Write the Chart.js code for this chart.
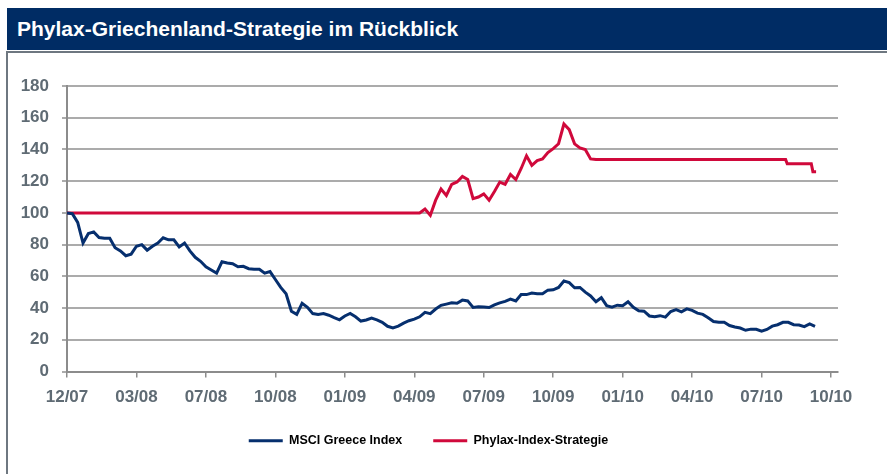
<!DOCTYPE html>
<html>
<head>
<meta charset="utf-8">
<script src="https://cdn.jsdelivr.net/npm/chart.js@4.4.0/dist/chart.umd.min.js"></script>
<style>
  html, body { margin: 0; padding: 0; background: #fff; }
  body { width: 887px; height: 474px; position: relative; overflow: hidden;
         font-family: "Liberation Sans", Arial, sans-serif; }
  #titlebar { position: absolute; left: 7px; top: 8px; width: 880px; height: 42px;
              background: #002c64; color: #fff; font-weight: bold; font-size: 21px;
              line-height: 42px; padding-left: 10px; box-sizing: border-box; }
  #frame { position: absolute; left: 6px; top: 51px; width: 881px; height: 423px;
           border-left: 2px solid #6e7780; border-top: 2px solid #6e7780; box-sizing: border-box; }
  #chart { position: absolute; left: 0; top: 0; }
</style>
</head>
<body>
<div id="titlebar">Phylax-Griechenland-Strategie im Rückblick</div>
<div id="frame"></div>
<canvas id="chart" width="887" height="474"></canvas>
<script>
// x unit = one week, 13 weeks between tick labels
var tickLabels = ['12/07', '03/08', '07/08', '10/08', '01/09', '04/09', '07/09', '10/09', '01/10', '04/10', '07/10', '10/10'];

// MSCI Greece Index, weekly, week 0 .. 140
var msciValues = [
  100, 99.5, 94, 81, 87, 88, 84.5, 84, 84, 78,
  76, 73, 74, 79, 80, 76.5, 79, 81, 84.3, 83,
  83, 78.5, 81, 76, 72, 69.5, 66, 64, 62, 69.2,
  68.4, 68, 66, 66.3, 64.8, 64.5, 64.5, 62, 63, 58,
  53, 49, 38, 36, 43, 40.5, 36.5, 36, 36.5, 35.5,
  34, 32.6, 35, 36.6, 34.5, 31.8, 32.5, 33.7, 32.5, 31,
  28.5, 27.5, 28.6, 30.5, 32, 33, 34.5, 37.3, 36.5, 39.4,
  41.7, 42.5, 43.3, 43, 45, 44.5, 40.4, 40.8, 40.7, 40.3,
  42, 43.3, 44.2, 45.6, 44.5, 48.5, 48.5, 49.5, 49, 49,
  51.3, 51.5, 53, 57, 56, 52.8, 53, 50, 47.6, 44,
  46.5, 41.5, 40.6, 41.8, 41.5, 44, 40.5, 38.3, 38, 35,
  34.5, 35.2, 34.3, 37.8, 39, 37.6, 39.5, 38.5, 36.8, 36,
  33.9, 31.5, 31, 31, 29, 28.1, 27.4, 26, 26.7, 26.6,
  25.4, 26.5, 28.6, 29.5, 31, 31, 29.5, 29.3, 28.3, 30,
  28.5
];

// Phylax-Index-Strategie (flat stretches only need their end points)
var phylaxWeeks = [
  0, 66, 67, 68, 69, 70, 71, 72, 73, 74,
  75, 76, 77, 78, 79, 80, 81, 82, 83, 84,
  85, 86, 87, 88, 89, 90, 91, 92, 93, 94,
  95, 96, 97, 98, 99, 134.5, 134.8, 139.3, 139.6, 140.2
];
var phylaxValues = [
  100, 100, 102.5, 98.5, 108, 115, 111, 118, 119.5, 123,
  121, 109, 110, 112, 108, 113.5, 119.4, 118, 124.2, 121,
  128, 136, 130, 133, 134, 138, 140.5, 143.6, 156, 152.5,
  143.5, 141, 140, 134, 133.6, 133.6, 131, 131, 126, 126
];

var blue = '#062f6e';
var red = '#d0093b';
var labelGray = '#5f6b74';
var gridGray = '#ababab';
var axisGray = '#8c8c8c';

var msciPoints = msciValues.map(function (v, i) { return { x: i, y: v }; });
var phylaxPoints = phylaxWeeks.map(function (w, i) { return { x: w, y: phylaxValues[i] }; });

new Chart(document.getElementById('chart'), {
  type: 'line',
  data: {
    datasets: [{
      label: 'MSCI Greece Index',
      data: msciPoints,
      borderColor: blue,
      backgroundColor: blue,
      borderWidth: 3,
      pointRadius: 0,
      tension: 0
    }, {
      label: 'Phylax-Index-Strategie',
      data: phylaxPoints,
      borderColor: red,
      backgroundColor: red,
      borderWidth: 3,
      pointRadius: 0,
      tension: 0
    }]
  },
  options: {
    responsive: false,
    animation: false,
    events: [],
    layout: { padding: { left: 19, right: 49, top: 86, bottom: 17 } },
    plugins: {
      tooltip: { enabled: false },
      legend: {
        position: 'bottom',
        labels: {
          boxWidth: 34,
          boxHeight: 3,
          padding: 31,
          color: '#555555',
          font: { family: '"Liberation Sans", Arial, sans-serif', size: 12.5, weight: 'bold' },
          generateLabels: function (chart) {
            return chart.data.datasets.map(function (ds, i) {
              return { text: ds.label, fillStyle: ds.borderColor, strokeStyle: ds.borderColor,
                       lineWidth: 0, hidden: false, datasetIndex: i };
            });
          }
        }
      }
    },
    scales: {
      x: {
        type: 'linear',
        min: 0,
        max: 144.3,
        afterFit: function (s) { s.height = 32; },
        afterBuildTicks: function (s) {
          s.ticks = tickLabels.map(function (t, i) { return { value: i * 13 }; });
        },
        ticks: {
          autoSkip: false,
          maxRotation: 0,
          padding: 10,
          color: labelGray,
          font: { family: '"Liberation Sans", Arial, sans-serif', size: 17, weight: 'bold' },
          callback: function (v, i) { return tickLabels[i]; }
        },
        grid: { drawOnChartArea: false, drawTicks: true, tickLength: 6, color: axisGray, lineWidth: 1.5 },
        border: { display: true, color: axisGray, width: 2 }
      },
      y: {
        min: 0,
        max: 180,
        afterFit: function (s) { s.width = 48; },
        ticks: {
          stepSize: 20,
          padding: 13,
          color: labelGray,
          font: { family: '"Liberation Sans", Arial, sans-serif', size: 17, weight: 'bold' }
        },
        grid: { color: gridGray, lineWidth: 2, tickLength: 5 },
        border: { display: true, color: axisGray, width: 2 }
      }
    }
  }
});
</script>
</body>
</html>
